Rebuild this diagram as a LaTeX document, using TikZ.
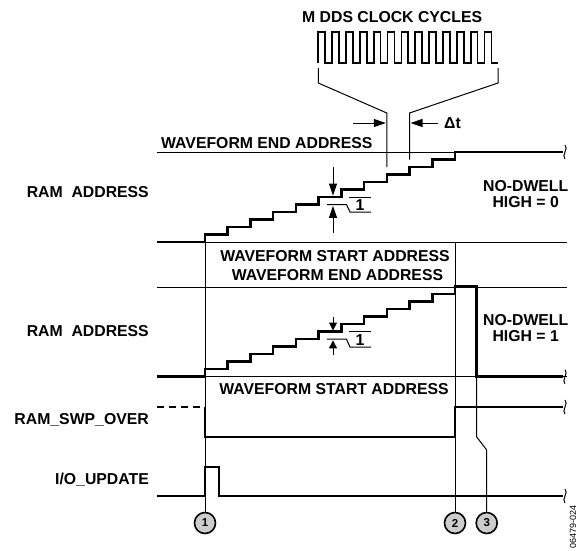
\documentclass[tikz,border=0pt]{standalone}
\usepackage{fontspec}
\setmainfont{Liberation Sans}
\usetikzlibrary{arrows.meta}
\begin{document}
\begin{tikzpicture}[x=1pt,y=-1pt,
  sig/.style={line width=2.5pt},
  thinline/.style={line width=1pt},
  clk/.style={line width=1.7pt},
  lbl/.style={font=\fontsize{15.8}{18}\selectfont\bfseries, inner sep=0pt},
  bigarr/.style={thinline,-{Triangle[length=12pt,width=8pt]}},
  smallarr/.style={thinline,-{Triangle[length=8pt,width=8pt]}},
  num/.style={circle, draw, line width=1.6pt, fill=black!20, minimum size=21pt, inner sep=0pt, font=\fontsize{11.5}{12}\selectfont\bfseries},
  brk/.pic={\draw[thinline] (0,-7) .. controls (4,-4) and (-4,4) .. (0,7);}
]
\useasboundingbox (0,0) rectangle (579,550);

% clock
\node[lbl, anchor=base west] (title) at (302,22.7) {M DDS CLOCK CYCLES};
\draw[clk] (318.3,62.7) \foreach \i in {0,...,12}{ -- ({318.3+13.85*\i},31.7) -- ({318.3+13.85*\i+6.92},31.7) -- ({318.3+13.85*\i+6.92},62.7) -- ({318.3+13.85*(\i+1)},62.7)};
\draw[thinline] (318.3,68) -- (318.3,83) -- (386.8,113) -- (386.8,167);
\draw[thinline] (498,68) -- (498,83) -- (409.5,113) -- (409.5,159.5);
\draw[bigarr] (353,123) -- (385.8,123);
\draw[bigarr] (438,123) -- (410.5,123);
\node[lbl, anchor=base west] (dt) at (444,128.7) {Δt};

% top RAM address
\draw[thinline] (157,152) -- (563,152);
\node[lbl, anchor=base west] (wea1) at (161,148.5) {WAVEFORM END ADDRESS};
\draw[sig] (157,242) -- (205,242) \foreach \k in {0,...,11}{ -- ({205+22.727*\k},{242-7.5*\k}) -- ({205+22.727*\k},{242-7.5*(\k+1)}) } -- (563,152);
\pic at (565,152) {brk};
\node[lbl, anchor=base east] (ra1) at (149,197.3) {RAM\ \ ADDRESS};
\node[lbl, anchor=base] (nd0a) at (525.7,191.5) {NO-DWELL};
\node[lbl, anchor=base] (nd0b) at (525.7,207) {HIGH = 0};
\draw[bigarr] (333,167) -- (333,195.6);
\draw[bigarr] (333,233) -- (333,205.9);
\draw[thinline] (349,197) -- (371,197);
\draw[thinline] (327,204.5) -- (346.5,204.5) -- (350,212) -- (371,212);
\node[lbl, anchor=base] (one1) at (360,210) {1};

% box
\draw[thinline] (205,242) -- (567,242);
\draw[thinline] (157,287) -- (567,287);
\node[lbl, anchor=base] (wsa1) at (335,261.6) {WAVEFORM START ADDRESS};
\node[lbl, anchor=base] (wea2) at (337.5,280) {WAVEFORM END ADDRESS};

% middle RAM address
\draw[thinline] (157,376.7) -- (567,376.7);
\draw[sig] (157,376.7) -- (205,376.7) \foreach \k in {0,...,11}{ -- ({205+22.727*\k},{376.7-7.5*\k}) -- ({205+22.727*\k},{376.7-7.5*(\k+1)}) } -- (476.7,286.7) -- (476.7,376.7) -- (563,376.7);
\pic at (565,376.7) {brk};
\node[lbl, anchor=base east] (ra2) at (149,336.6) {RAM\ \ ADDRESS};
\node[lbl, anchor=base] (nd1a) at (525.7,325.6) {NO-DWELL};
\node[lbl, anchor=base] (nd1b) at (525.7,341.6) {HIGH = 1};
\draw[smallarr] (333,317) -- (333,330.5);
\draw[smallarr] (333,355) -- (333,340.4);
\draw[thinline] (349,331.7) -- (371,331.7);
\draw[thinline] (327,339.2) -- (346.5,339.2) -- (350,347) -- (371,347);
\node[lbl, anchor=base] (one2) at (360,345) {1};
\node[lbl, anchor=base] (wsa2) at (334,394) {WAVEFORM START ADDRESS};

% RAM_SWP_OVER
\node[lbl, anchor=base east] (rso) at (149,424) {RAM\_SWP\_OVER};
\draw[sig, dash pattern=on 7pt off 5pt] (157,407) -- (204,407);
\draw[sig] (205,407) -- (205,437) -- (455,437) -- (455,407) -- (563,407);
\pic at (565,407) {brk};

% I/O_UPDATE
\node[lbl, anchor=base east] (iou) at (149,484) {I/O\_UPDATE};
\draw[sig] (157,496) -- (205,496) -- (205,467) -- (219,467) -- (219,496) -- (563,496);
\pic at (565,496) {brk};

% markers
\node[num] (c1) at (205,523) {1};
\node[num] (c2) at (455,523) {2};
\node[num] (c3) at (486.7,523) {3};
\draw[thinline] (205,234.5) -- (c1.north);
\draw[thinline] (455,242) -- (c2.north);
\coordinate (k3a) at (476.7,437);
\coordinate (k3b) at (486.7,450);
\draw[thinline] (476.7,376.7) -- (k3a) -- (k3b) -- (c3.north);

\node[font=\fontsize{9}{10}\selectfont, rotate=90, inner sep=0pt] (fig) at (573,527) {06479-024};
\end{tikzpicture}
\end{document}
